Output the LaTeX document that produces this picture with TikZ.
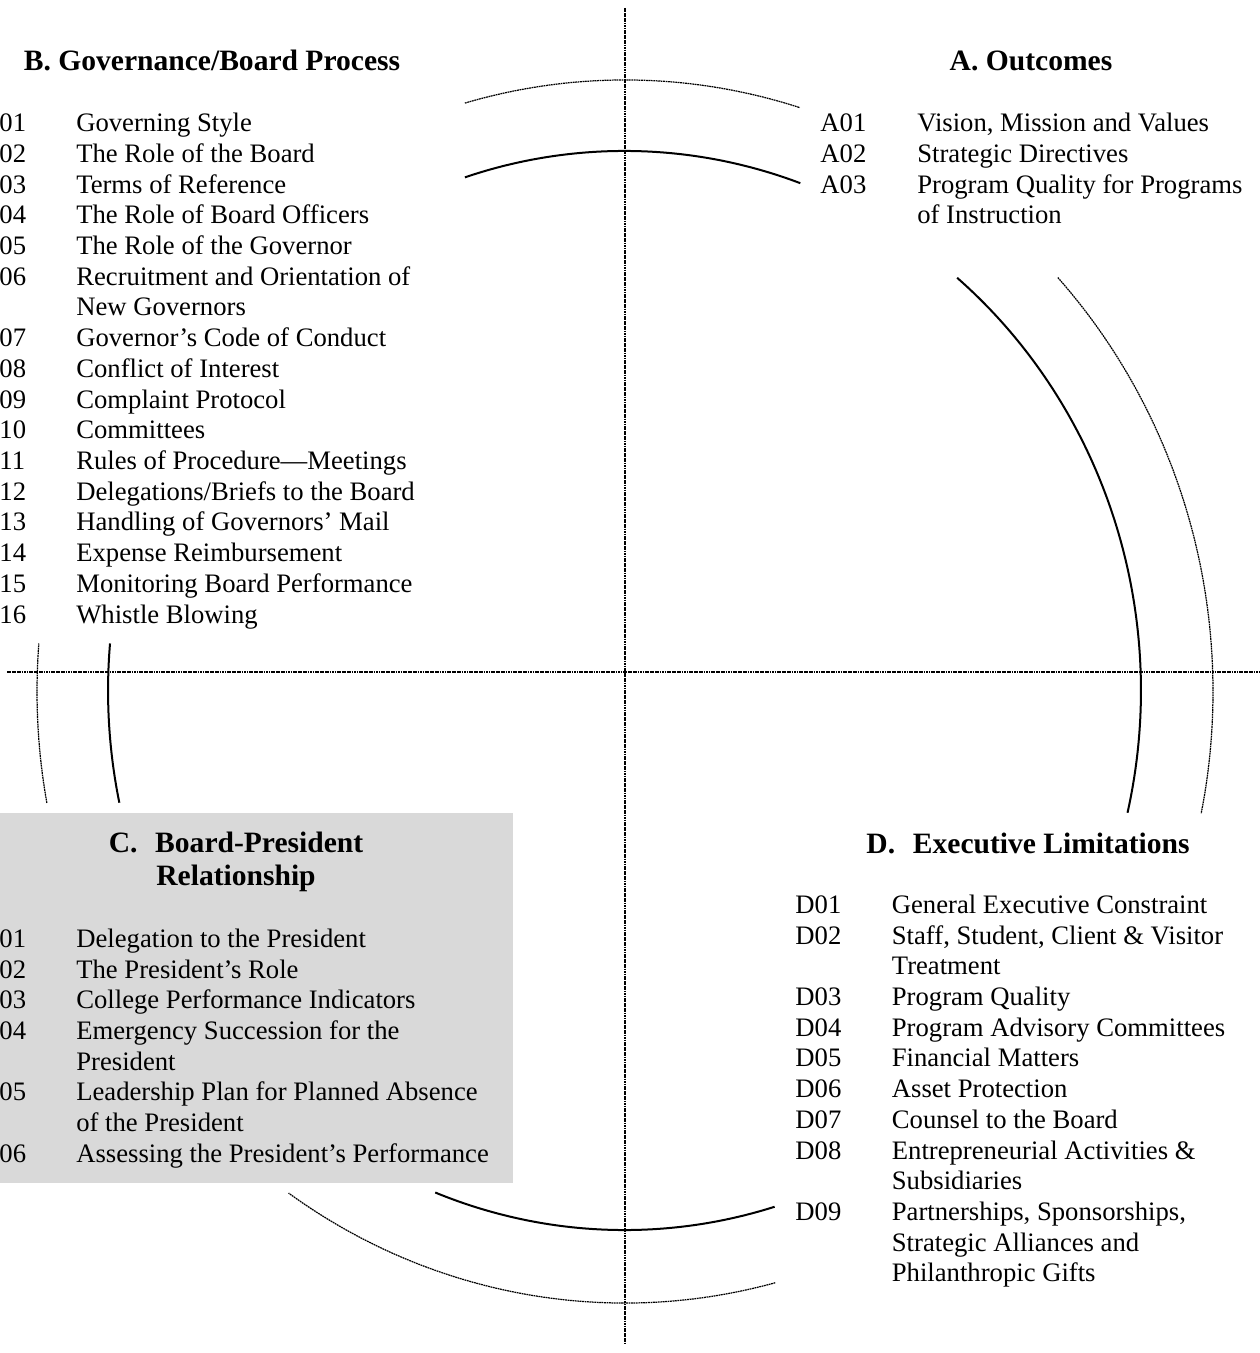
\documentclass[tikz,border=0pt]{standalone}
\usepackage{fontspec}
\setmainfont{Liberation Serif}
\usetikzlibrary{positioning}

\begin{document}
\begin{tikzpicture}[
    x=0.45pt, y=-0.45pt,
    axis/.style={line width=0.55pt, dash pattern=on 0.8pt off 0.3pt},
    outerarc/.style={axis},
    innerarc/.style={line width=0.9pt},
    head/.style={inner sep=0, anchor=base, font=\fontsize{13.3}{14.9}\selectfont\bfseries},
    items/.style={inner sep=0, anchor=base west, font=\fontsize{12}{13.82}\selectfont}
]
    \useasboundingbox (0,0) rectangle (1259,1353);

    % Shaded panel
    \fill[black!15] (0,813) rectangle (513,1183);

    % Axes
    \coordinate (top) at (625,8);
    \coordinate (bot) at (625,1343);
    \coordinate (lft) at (7,672);
    \coordinate (rgt) at (1259,672);
    \draw[axis] (top) -- (bot);
    \draw[axis] (lft) -- (rgt);

    % Arcs
    \coordinate (oc) at (625,691.5);
    \coordinate (ic) at (624.5,690.5);
    \foreach \s/\e in {105.8/72.7, 42.6/-11.5, -75.2/-124.9, 190.5/175.5}
        \draw[outerarc] (oc) ++(\s:264.6pt and 275.2pt)
            arc[start angle=\s, end angle=\e, x radius=264.6pt, y radius=275.2pt];
    \foreach \s/\e in {108/70.1, 49.9/-13.1, -73.1/-111.5, 192/175}
        \draw[innerarc] (ic) ++(\s:232.4pt and 242.8pt)
            arc[start angle=\s, end angle=\e, x radius=232.4pt, y radius=242.8pt];

    % Headings
    \node[head] (headB) at (212,70.7) {B. Governance/Board Process};
    \node[head] (headA) at (1031,70.7) {A. Outcomes};
    \node[head] (headC) at (236,852) {\begin{tabular}[t]{@{}c@{}}C.\hspace{0.6em}Board-President\\Relationship\end{tabular}};
    \node[head] (headD) at (1028,853) {D.\hspace{0.6em}Executive Limitations};

    % Lists
    \node[items] (listB) at (-1,131.7) {\begin{tabular}[t]{@{}p{34.6pt}@{}l@{}}
        01 & Governing Style\\
        02 & The Role of the Board\\
        03 & Terms of Reference\\
        04 & The Role of Board Officers\\
        05 & The Role of the Governor\\
        06 & Recruitment and Orientation of\\
           & New Governors\\
        07 & Governor’s Code of Conduct\\
        08 & Conflict of Interest\\
        09 & Complaint Protocol\\
        10 & Committees\\
        11 & Rules of Procedure---Meetings\\
        12 & Delegations/Briefs to the Board\\
        13 & Handling of Governors’ Mail\\
        14 & Expense Reimbursement\\
        15 & Monitoring Board Performance\\
        16 & Whistle Blowing
    \end{tabular}};
    \node[items] (listA) at (820,131.7) {\begin{tabular}[t]{@{}p{43.6pt}@{}l@{}}
        A01 & Vision, Mission and Values\\
        A02 & Strategic Directives\\
        A03 & Program Quality for Programs\\
            & of Instruction
    \end{tabular}};
    \node[items] (listC) at (-1,947.3) {\begin{tabular}[t]{@{}p{34.6pt}@{}l@{}}
        01 & Delegation to the President\\
        02 & The President’s Role\\
        03 & College Performance Indicators\\
        04 & Emergency Succession for the\\
           & President\\
        05 & Leadership Plan for Planned Absence\\
           & of the President\\
        06 & Assessing the President’s Performance
    \end{tabular}};
    \node[items] (listD) at (795,913.3) {\begin{tabular}[t]{@{}p{43.4pt}@{}l@{}}
        D01 & General Executive Constraint\\
        D02 & Staff, Student, Client \& Visitor\\
            & Treatment\\
        D03 & Program Quality\\
        D04 & Program Advisory Committees\\
        D05 & Financial Matters\\
        D06 & Asset Protection\\
        D07 & Counsel to the Board\\
        D08 & Entrepreneurial Activities \&\\
            & Subsidiaries\\
        D09 & Partnerships, Sponsorships,\\
            & Strategic Alliances and\\
            & Philanthropic Gifts
    \end{tabular}};
\end{tikzpicture}
\end{document}
